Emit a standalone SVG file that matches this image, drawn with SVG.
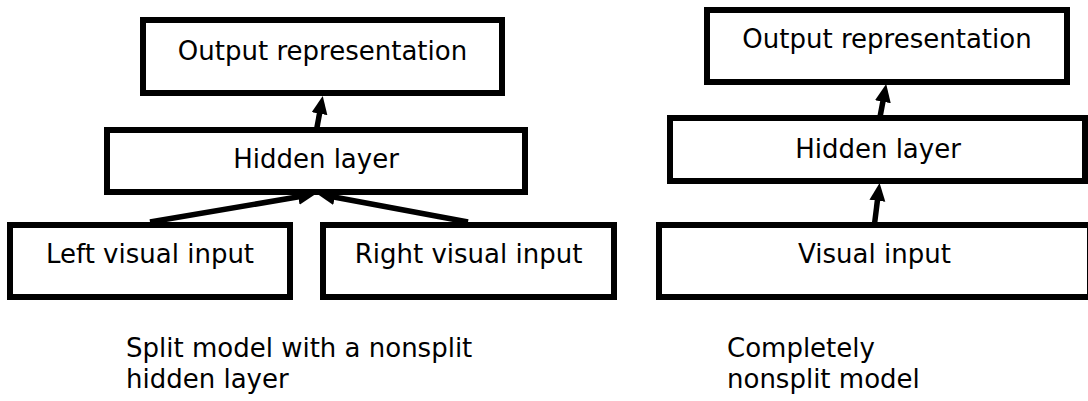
<svg xmlns="http://www.w3.org/2000/svg" width="1088" height="401" viewBox="0 0 1088 401">
  <style>
    .box { fill: #ffffff; stroke: #000000; stroke-width: 6; }
    .lbl { font-family: "DejaVu Sans", Verdana, sans-serif; font-size: 26px; fill: #000000; text-anchor: middle; }
    .cap { font-family: "DejaVu Sans", Verdana, sans-serif; font-size: 26px; fill: #000000; }
    .conn { stroke: #000000; stroke-width: 5.5; fill: none; marker-end: url(#arrow); }
  </style>
  <defs>
    <marker id="arrow" markerUnits="userSpaceOnUse" markerWidth="19" markerHeight="17" refX="5" refY="8" orient="auto">
      <path d="M0,0 L18,8 L0,16 z" fill="#000000"/>
    </marker>
  </defs>
  <rect width="1088" height="401" fill="#ffffff"/>

  <g id="split-output">
    <rect class="box" x="143" y="20" width="359" height="73"/>
    <text class="lbl" x="322.5" y="60">Output representation</text>
  </g>
  <g id="split-hidden">
    <rect class="box" x="107" y="130" width="418" height="62"/>
    <text class="lbl" x="316" y="168">Hidden layer</text>
  </g>
  <g id="left-input">
    <rect class="box" x="10" y="225" width="280" height="72"/>
    <text class="lbl" x="150" y="263">Left visual input</text>
  </g>
  <g id="right-input">
    <rect class="box" x="323" y="225" width="291" height="72"/>
    <text class="lbl" x="468.5" y="263">Right visual input</text>
  </g>
  <g id="split-caption">
    <text class="cap" x="126" y="357">Split model with a nonsplit</text>
    <text class="cap" x="126" y="388">hidden layer</text>
  </g>

  <g id="nonsplit-output">
    <rect class="box" x="707" y="10" width="360" height="72"/>
    <text class="lbl" x="887" y="48">Output representation</text>
  </g>
  <g id="nonsplit-hidden">
    <rect class="box" x="670" y="118" width="415" height="63"/>
    <text class="lbl" x="878" y="158">Hidden layer</text>
  </g>
  <g id="visual-input">
    <rect class="box" x="659" y="225" width="431" height="72"/>
    <text class="lbl" x="874.5" y="263">Visual input</text>
  </g>
  <g id="nonsplit-caption">
    <text class="cap" x="727" y="357">Completely</text>
    <text class="cap" x="727" y="388">nonsplit model</text>
  </g>

  <g id="connectors">
    <line class="conn" x1="316.7" y1="129" x2="320.4" y2="108.8"/>
    <line class="conn" x1="150" y1="222" x2="303.2" y2="196"/>
    <line class="conn" x1="468" y1="222" x2="329.8" y2="196.2"/>
    <line class="conn" x1="880" y1="117" x2="883.8" y2="96.8"/>
    <line class="conn" x1="874.5" y1="224" x2="878" y2="195.9"/>
  </g>
</svg>
